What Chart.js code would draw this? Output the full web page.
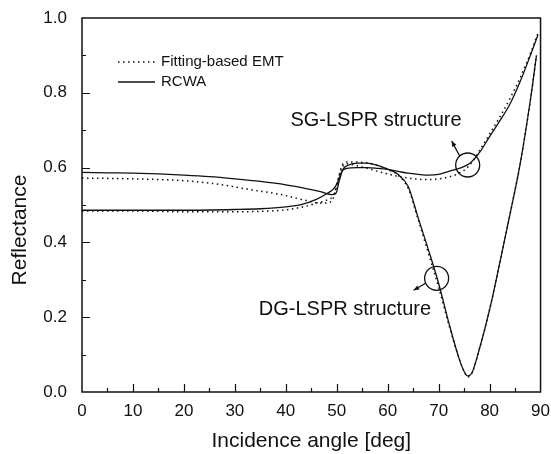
<!DOCTYPE html>
<html>
<head>
<meta charset="utf-8">
<script src="https://cdn.jsdelivr.net/npm/chart.js@4.4.1/dist/chart.umd.min.js"></script>
<style>
  html, body { margin: 0; padding: 0; background: #fff; }
</style>
</head>
<body>
<canvas id="chart" width="551" height="454"></canvas>
<script>
// reflectance vs incidence angle, RCWA (solid) and fitting-based EMT (dotted)
const sgRcwaAngle = [0, 10, 20, 30, 35, 40, 43, 46, 48, 49.5, 50.3, 51, 52, 54, 56, 58, 60, 62, 64, 66, 68, 70, 72, 74, 76, 78, 80, 82, 84, 86, 88, 89.5];
const sgRcwaR = [0.486, 0.486, 0.486, 0.488, 0.490, 0.495, 0.501, 0.515, 0.530, 0.545, 0.565, 0.590, 0.598, 0.600, 0.600, 0.598, 0.595, 0.590, 0.585, 0.582, 0.580, 0.582, 0.590, 0.598, 0.610, 0.640, 0.683, 0.725, 0.770, 0.830, 0.900, 0.955];

const dgRcwaAngle = [0, 5, 10, 15, 20, 25, 30, 35, 40, 44, 47, 49, 49.8, 50.5, 51.2, 52, 54, 56, 58, 60, 62, 64, 66, 68, 70, 72, 74, 75, 75.7, 76.5, 78, 80, 82, 84, 86, 88, 89.2];
const dgRcwaR = [0.587, 0.586, 0.585, 0.583, 0.580, 0.576, 0.570, 0.563, 0.554, 0.544, 0.535, 0.528, 0.530, 0.565, 0.595, 0.605, 0.612, 0.612, 0.606, 0.596, 0.582, 0.550, 0.465, 0.380, 0.290, 0.185, 0.090, 0.055, 0.043, 0.050, 0.115, 0.220, 0.345, 0.475, 0.610, 0.780, 0.900];

const sgEmtAngle = [0, 10, 20, 30, 35, 40, 44, 46, 48, 49.5, 50.3, 51, 52, 54, 56, 58, 60, 62, 64, 66, 68, 70, 72, 74, 76, 78, 80, 82, 84, 86, 88, 89.5];
const sgEmtR = [0.484, 0.484, 0.482, 0.482, 0.483, 0.487, 0.497, 0.505, 0.513, 0.530, 0.570, 0.600, 0.610, 0.605, 0.598, 0.590, 0.583, 0.577, 0.572, 0.569, 0.568, 0.570, 0.575, 0.585, 0.605, 0.645, 0.690, 0.735, 0.785, 0.840, 0.905, 0.960];

const dgEmtAngle = [0, 10, 20, 27, 33, 39, 44, 47, 48.5, 49.5, 50.3, 51, 52, 54, 56, 58, 60, 62, 64, 66, 68, 70, 72, 74, 75, 75.7, 76.5, 78, 80, 82, 84, 86, 88, 89.2];
const dgEmtR = [0.572, 0.570, 0.565, 0.555, 0.541, 0.528, 0.512, 0.505, 0.506, 0.525, 0.570, 0.605, 0.615, 0.615, 0.612, 0.606, 0.595, 0.580, 0.545, 0.460, 0.370, 0.280, 0.180, 0.090, 0.055, 0.040, 0.050, 0.115, 0.220, 0.345, 0.475, 0.610, 0.780, 0.900];

const xTicks = [0, 10, 20, 30, 40, 50, 60, 70, 80, 90];
const yTicks = [0.0, 0.2, 0.4, 0.6, 0.8, 1.0];

const FONT = "'Liberation Sans', Arial, sans-serif";
const INK = "#111";

const pts = (xs, ys) => xs.map((a, i) => ({ x: a, y: ys[i] }));

const solid = { borderColor: INK, borderWidth: 1.3, pointRadius: 0, fill: false, cubicInterpolationMode: "monotone" };
const dotted = { borderColor: INK, borderWidth: 1.5, borderDash: [1.5, 3.5], pointRadius: 0, fill: false, cubicInterpolationMode: "monotone" };

function arrow(ctx, x1, y1, x2, y2) {
  ctx.beginPath();
  ctx.moveTo(x1, y1);
  ctx.lineTo(x2, y2);
  ctx.stroke();
  const ang = Math.atan2(y2 - y1, x2 - x1);
  ctx.beginPath();
  ctx.moveTo(x2, y2);
  ctx.lineTo(x2 - 6 * Math.cos(ang - 0.4), y2 - 6 * Math.sin(ang - 0.4));
  ctx.lineTo(x2 - 6 * Math.cos(ang + 0.4), y2 - 6 * Math.sin(ang + 0.4));
  ctx.closePath();
  ctx.fill();
}

// frame, inward ticks, y title, legend and the structure labels
const decorations = {
  id: "decorations",
  afterDatasetsDraw(chart) {
    const { ctx, chartArea: a, scales: { x, y } } = chart;
    ctx.save();
    ctx.strokeStyle = INK;
    ctx.fillStyle = INK;
    ctx.lineWidth = 1.5;
    ctx.strokeRect(a.left, a.top, a.right - a.left, a.bottom - a.top);

    ctx.lineWidth = 1.2;
    ctx.beginPath();
    for (let t = 5; t < 90; t += 5) {
      const px = Math.round(x.getPixelForValue(t)) + 0.5;
      ctx.moveTo(px, a.bottom);
      ctx.lineTo(px, a.bottom - (t % 10 ? 4 : 8));
    }
    for (let k = 1; k < 10; k++) {
      const py = Math.round(y.getPixelForValue(k / 10)) + 0.5;
      ctx.moveTo(a.left, py);
      ctx.lineTo(a.left + (k % 2 ? 4 : 8), py);
    }
    ctx.stroke();

    // y axis title, sits a little below the middle of the axis
    ctx.save();
    ctx.translate(20, 230);
    ctx.rotate(-Math.PI / 2);
    ctx.font = "21px " + FONT;
    ctx.textAlign = "center";
    ctx.textBaseline = "middle";
    ctx.fillText("Reflectance", 0, 0);
    ctx.restore();

    // legend
    const lx = a.left + 36, ly1 = a.top + 44, ly2 = a.top + 64;
    ctx.lineWidth = 1.5;
    ctx.setLineDash([1.5, 3.5]);
    ctx.beginPath(); ctx.moveTo(lx, ly1); ctx.lineTo(lx + 37, ly1); ctx.stroke();
    ctx.setLineDash([]);
    ctx.lineWidth = 1.3;
    ctx.beginPath(); ctx.moveTo(lx, ly2); ctx.lineTo(lx + 37, ly2); ctx.stroke();
    ctx.font = "15px " + FONT;
    ctx.textBaseline = "middle";
    ctx.textAlign = "left";
    ctx.fillText("Fitting-based EMT", lx + 43, ly1);
    ctx.fillText("RCWA", lx + 43, ly2);

    // structure labels with marker circles
    ctx.font = "20px " + FONT;
    ctx.textAlign = "center";
    ctx.fillText("SG-LSPR structure", x.getPixelForValue(57.7), y.getPixelForValue(0.727));
    ctx.fillText("DG-LSPR structure", x.getPixelForValue(51.6), y.getPixelForValue(0.221));

    ctx.lineWidth = 1.3;
    const sgX = x.getPixelForValue(75.7), sgY = y.getPixelForValue(0.607);
    ctx.beginPath(); ctx.arc(sgX, sgY, 12, 0, Math.PI * 2); ctx.stroke();
    arrow(ctx, sgX - 8, sgY - 9, sgX - 16, sgY - 24);

    const dgX = x.getPixelForValue(69.6), dgY = y.getPixelForValue(0.304);
    ctx.beginPath(); ctx.arc(dgX, dgY, 12, 0, Math.PI * 2); ctx.stroke();
    arrow(ctx, dgX - 11, dgY + 5, dgX - 23, dgY + 12);
    ctx.restore();
  }
};

Chart.defaults.font.family = FONT;
Chart.defaults.color = INK;

new Chart(document.getElementById("chart"), {
  type: "line",
  data: {
    datasets: [
      { label: "SG RCWA", data: pts(sgRcwaAngle, sgRcwaR), ...solid },
      { label: "DG RCWA", data: pts(dgRcwaAngle, dgRcwaR), ...solid },
      { label: "SG EMT", data: pts(sgEmtAngle, sgEmtR), ...dotted },
      { label: "DG EMT", data: pts(dgEmtAngle, dgEmtR), ...dotted },
    ],
  },
  options: {
    responsive: false,
    animation: false,
    layout: { padding: { top: 18, right: 10, left: 0, bottom: 0 } },
    plugins: { legend: { display: false }, tooltip: { enabled: false } },
    scales: {
      x: {
        type: "linear",
        min: 0,
        max: 90,
        afterBuildTicks: (s) => { s.ticks = xTicks.map((v) => ({ value: v })); },
        afterFit: (s) => { s.height = 62; },
        grid: { display: false },
        border: { display: false },
        ticks: { font: { size: 17 }, padding: 1, maxRotation: 0 },
        title: { display: true, text: "Incidence angle [deg]", font: { size: 21 }, padding: { top: 0, bottom: 0 } },
      },
      y: {
        min: 0,
        max: 1,
        afterBuildTicks: (s) => { s.ticks = yTicks.map((v) => ({ value: v })); },
        afterFit: (s) => { s.width = 82; },
        grid: { display: false },
        border: { display: false },
        ticks: { font: { size: 17 }, padding: 7, callback: (v) => v.toFixed(1) },
      },
    },
  },
  plugins: [decorations],
});
</script>
</body>
</html>
